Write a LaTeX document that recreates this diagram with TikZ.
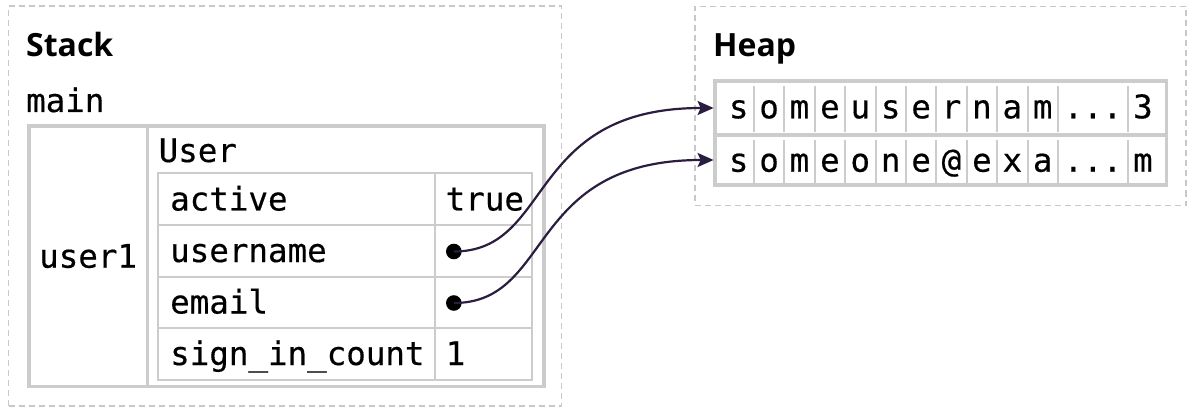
\documentclass[tikz,border=0pt]{standalone}
\usepackage{fontspec}
\setmainfont{Open Sans}
\setmonofont[FakeBold=0.4]{DejaVu Sans Mono}
\usetikzlibrary{arrows.meta}
\definecolor{gridc}{HTML}{CCCCCC}
\definecolor{dashc}{HTML}{C8C8C8}
\definecolor{ptrc}{HTML}{2B1D3F}
\tikzset{
  region/.style={draw=dashc, line width=1.5pt, dash pattern=on 6pt off 4pt, inner sep=0pt, outer sep=0pt, anchor=north west},
  title/.style={font=\fontsize{32}{38}\selectfont\bfseries, anchor=base west, inner sep=0pt},
  mono/.style={font=\fontsize{32.5}{38}\selectfont\ttfamily, anchor=base west, inner sep=0pt},
  monoc/.style={font=\fontsize{32.5}{38}\selectfont\ttfamily, anchor=base, inner sep=0pt},
  frame/.style={draw=gridc, line width=3.5pt, inner sep=0pt, outer sep=0pt, anchor=north west},
  cellbox/.style={draw=gridc, line width=2pt, inner sep=0pt, outer sep=0pt, anchor=north west},
  divider/.style={draw=gridc, line width=2pt},
  ptrline/.style={draw=ptrc, line width=2.2pt, -{Stealth[length=16pt, width=14pt, inset=3pt]}, shorten >=1.4pt},
  ptrdot/.style={fill=black}
}
\begin{document}
\begin{tikzpicture}[x=1pt, y=-1pt]
\useasboundingbox (0,0) rectangle (1191,414);

% regions
\node[region, minimum width=553pt, minimum height=400pt] (stack) at (8.5,6) {};
\node[region, minimum width=491pt, minimum height=199pt] (heap) at (695,6.5) {};
\node[title] (stacktitle) at (26,57) {Stack};
\node[title] (heaptitle) at (713,57) {Heap};

% stack frame
\node[mono] (mainlbl) at (26,112) {main};
\node[frame, minimum width=118.5pt, minimum height=260.5pt] (varcell) at (29,126) {};
\node[frame, minimum width=396.5pt, minimum height=260.5pt] (valcell) at (147.5,126) {};
\node[mono] (user1) at (39,267.7) {user1};
\node[mono] (usertype) at (158.5,162) {User};

% inner struct table
\foreach \r/\y in {1/173.5, 2/225, 3/276.5, 4/328}{
  \node[cellbox, minimum width=276.5pt, minimum height=51.5pt] (k\r) at (158,\y) {};
  \node[cellbox, minimum width=97.2pt, minimum height=51.5pt] (v\r) at (434.5,\y) {};
}
\node[mono] (kt1) at (170,210.5) {active};
\node[mono] (kt2) at (170,262) {username};
\node[mono] (kt3) at (170,313.5) {email};
\node[mono] (kt4) at (170,365) {sign\_in\_count};
\node[mono] (vt1) at (445.5,210.5) {true};
\node[mono] (vt4) at (445.5,365) {1};
\coordinate (d1) at (453.8,251.5);
\coordinate (d2) at (453.8,303);
\fill[ptrdot] (d1) circle[radius=7.8pt];
\fill[ptrdot] (d2) circle[radius=7.8pt];

% heap strings
\node[frame, minimum width=451.5pt, minimum height=54pt] (h1) at (715,81) {};
\node[frame, minimum width=451.5pt, minimum height=50pt] (h2) at (715,135) {};

\foreach \i in {1,...,11}{
  \draw[divider] ({723.5+30.4*\i},86) -- ({723.5+30.4*\i},132);
  \draw[divider] ({723.5+30.4*\i},140) -- ({723.5+30.4*\i},183);
}
\draw[divider] (1127.7,86) -- (1127.7,132);
\draw[divider] (1127.7,140) -- (1127.7,183);

\foreach \c [count=\i from 0] in {s,o,m,e,u,s,e,r,n,a,m}{
  \node[monoc] (a\i) at ({738.7+30.4*\i},118.3) {\c};
}
\node[monoc] (a11) at (1092.9,118.3) {...};
\node[monoc] (a12) at (1142.9,118.3) {3};

\foreach \c [count=\i from 0] in {s,o,m,e,o,n,e,@,e,x,a}{
  \node[monoc] (b\i) at ({738.7+30.4*\i},171.7) {\c};
}
\node[monoc] (b11) at (1092.9,171.7) {...};
\node[monoc] (b12) at (1142.9,171.7) {m};

% pointers
\draw[ptrline] (d1) .. controls +(100,0) and +(-190,0) .. (h1.west);
\draw[ptrline] (d2) .. controls +(100,0) and +(-190,0) .. (h2.west);
\end{tikzpicture}
\end{document}
